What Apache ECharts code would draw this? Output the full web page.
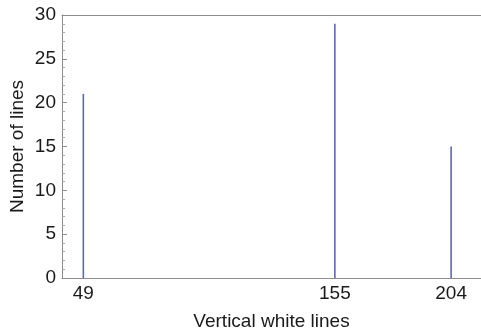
<!DOCTYPE html>
<html>
<head>
<meta charset="utf-8">
<script src="https://cdn.jsdelivr.net/npm/echarts@6/dist/echarts.min.js"></script>
<style>
  html, body { margin: 0; padding: 0; background: #fff; }
  #main { width: 481px; height: 335px; }
</style>
</head>
<body>
<div id="main"></div>
<script>
// whitespace column positions and how many lines each occurs in
var positions = [49, 155, 204];
var counts = [21, 29, 15];
var yTicks = [0, 5, 10, 15, 20, 25, 30];

var font = 'Liberation Sans, Arial, sans-serif';
var axisGray = '#8c8c8c';

const myChart = echarts.init(document.getElementById('main'));
myChart.setOption({
    animation: false,
    grid: {
        left: 62,
        right: 0,
        top: 15,
        bottom: 57,
        containLabel: false,
        outerBoundsMode: 'none'
    },
    xAxis: [{
        type: 'value',
        min: 40.0,
        max: 216.6,
        name: 'Vertical white lines',
        nameLocation: 'middle',
        nameGap: 34,
        nameMoveOverlap: false,
        nameTextStyle: { fontFamily: font, fontSize: 19, color: '#1a1a1a' },
        axisLine: { lineStyle: { color: axisGray, width: 1 } },
        axisTick: { show: false },
        splitLine: { show: false },
        axisLabel: {
            customValues: positions,
            fontFamily: font,
            fontSize: 19,
            color: '#1a1a1a',
            margin: 6
        }
    }, {
        type: 'value',
        position: 'top',
        min: 40.0,
        max: 216.6,
        axisLine: { show: true, lineStyle: { color: axisGray, width: 1 } },
        axisTick: { show: false },
        axisLabel: { show: false },
        splitLine: { show: false }
    }],
    yAxis: {
        type: 'value',
        min: yTicks[0],
        max: yTicks[yTicks.length - 1],
        interval: 5,
        name: 'Number of lines',
        nameLocation: 'middle',
        nameGap: 35,
        nameMoveOverlap: false,
        nameTextStyle: { fontFamily: font, fontSize: 19, color: '#1a1a1a' },
        axisLine: { show: true, lineStyle: { color: axisGray, width: 1 } },
        axisTick: { show: true, inside: true, length: 5, lineStyle: { color: axisGray } },
        minorTick: { show: true, splitNumber: 5, length: 3, lineStyle: { color: '#aaa' } },
        splitLine: { show: false },
        axisLabel: { fontFamily: font, fontSize: 19, color: '#1a1a1a', margin: 6 }
    },
    series: [{
        type: 'bar',
        barWidth: 1.6,
        itemStyle: { color: '#5b67b2' },
        data: positions.map(function (p, i) { return [p, counts[i]]; })
    }]
});
</script>
</body>
</html>
